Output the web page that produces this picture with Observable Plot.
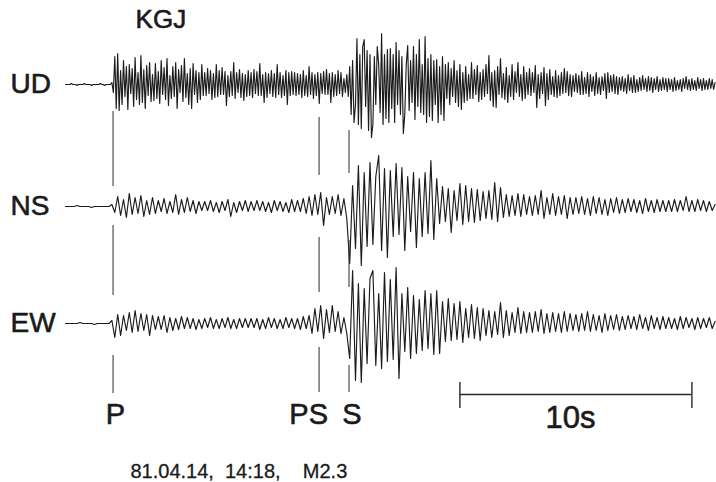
<!DOCTYPE html>
<html>
<head>
<meta charset="utf-8">
<script src="https://cdn.jsdelivr.net/npm/d3@7"></script>
<script src="https://cdn.jsdelivr.net/npm/@observablehq/plot@0.6"></script>
<style>
  html, body { margin: 0; padding: 0; background: #fff; }
  #chart svg { display: block; }
</style>
</head>
<body>
<div id="chart"></div>
<script>
// ---- data ----
const stationName = "KGJ";
const caption = "81.04.14,\u00a0\u00a014:18,\u00a0\u00a0\u00a0\u00a0M2.3";
const channels = ["UD", "NS", "EW"];
const channelOffsets = [0, -122, -239];
const sampleIntervals = [0.0625, 0.125, 0.125]; // seconds between samples per channel
const phaseNames = ["P", "PS", "S"];
const phaseTimes = [2.05, 10.93, 12.22];
const scaleBar = [17, 27];
const scaleLabel = "10s";

const ampUD = [
  0,0,0,0,1,0,0,0,-1,0,0,0,0,1,0,0,0,0,-1,0,0,0,0,0,1,0,0,-1,0,0,0,0,
  2,-8,28,-24,31,-26,14,-20,24,-12,18,-25,20,-9,16,-22,27,-15,12,-20,29,-18,15,-24,19,-11,22,-17,10,-16,21,-14,
  13,-19,24,-10,17,-15,26,-21,9,-14,18,-12,22,-24,15,-8,19,-17,26,-13,11,-20,16,-24,21,-10,14,-18,12,-15,20,-11,
  12,-11,16,-9,14,-15,11,-13,20,-12,14,-10,17,-10,13,-21,9,-12,13,-11,22,-14,12,-8,15,-13,11,-16,10,-12,14,-11,
  12,-13,15,-9,13,-11,21,-11,10,-18,12,-13,11,-9,14,-12,11,-13,20,-10,12,-13,9,-11,14,-20,12,-11,13,-10,12,-11,
  11,-10,10,-13,14,-11,9,-12,18,-10,12,-14,10,-11,12,-19,11,-9,13,-10,15,-10,11,-18,12,-12,10,-11,14,-9,12,-12,
  6,-8,10,-12,18,-30,24,-38,-20,46,-40,30,-44,38,45,-22,34,-46,30,-53,-40,28,-20,38,20,-28,51,-40,30,-34,35,-38,
  36,-24,30,-38,42,-20,34,-30,28,-49,-30,20,39,-26,24,-18,38,-35,30,-22,45,-28,20,-30,48,-38,26,-32,30,-36,24,-20,
  25,-38,18,-30,28,-36,20,-14,22,-20,16,-12,24,-18,14,-22,20,-25,12,-18,18,-16,10,-14,22,-14,15,-10,19,-17,12,-15,
  15,-12,20,-9,29,-16,12,-22,14,-23,18,-10,26,-13,11,-15,17,-18,9,-12,20,-15,13,-8,22,-12,10,-16,18,-14,12,-10,
  16,-11,12,-8,19,-23,10,-14,12,-9,17,-21,11,-15,15,-10,8,-12,14,-13,9,-11,12,-9,16,-8,13,-11,10,-12,9,-7,
  11,-8,9,-10,13,-10,7,-9,12,-12,10,-7,8,-11,12,-9,7,-10,8,-6,11,-14,12,-8,9,-7,10,-9,8,-10,7,-6,
  8,-7,6,-9,10,-6,7,-8,9,-8,5,-7,7,-6,9,-5,6,-7,8,-6,7,-8,6,-5,8,-7,5,-6,7,-5,6,-7,
  6,-5,5,-7,7,-6,4,-5,5,-7,6,-4,8,-5,5,-6,6,-5,4,-6,7,-4,5,-6,6,-5,4,-5,6,-4,5,-5,
  2
];
const ampNS = [
  0,0,0,0,1,0,0,0,0,-1,0,0,0,0,0,0,
  2,-6,10,-9,7,-11,13,-8,9,-7,11,-10,6,-8,9,-7,
  6,-5,8,-7,5,-6,12,-8,7,-6,9,-5,6,-7,5,-4,
  5,-4,6,-5,4,-6,5,-4,7,-10,4,-6,5,-4,6,-5,
  5,-4,6,-4,5,-5,4,-6,6,-4,5,-5,4,-6,7,-5,
  6,-5,8,-7,10,-9,12,-8,14,-19,9,-8,10,-7,12,-9,
  8,-12,-57,21,-42,41,-59,34,-40,44,-38,30,51,-44,38,-51,
  36,-30,43,-28,39,-44,30,-25,34,-41,28,-30,34,-27,46,-33,
  28,-17,20,-15,18,-26,16,-14,23,-18,21,-15,18,-16,17,-14,
  15,-12,16,-13,24,-15,19,-11,12,-10,11,-9,13,-10,12,-8,
  10,-9,11,-8,16,-12,9,-8,13,-9,10,-8,11,-12,9,-8,
  9,-7,10,-8,8,-9,10,-7,9,-8,7,-9,8,-6,9,-7,
  7,-6,8,-5,7,-6,6,-7,8,-5,6,-6,7,-5,6,-5,
  6,-5,7,-5,6,-4,10,-5,6,-5,7,-4,6,-5,5,-4,
  2
];
const ampEW = [
  0,0,0,0,0,1,0,0,0,0,-1,0,0,0,0,0,
  3,-14,9,-12,8,-7,11,-9,13,-8,10,-7,9,-12,8,-6,
  7,-6,8,-9,6,-7,5,-6,7,-5,6,-5,5,-6,4,-5,
  5,-4,6,-5,4,-5,5,-4,6,-5,4,-5,5,-4,5,-4,
  5,-4,5,-6,4,-5,6,-4,5,-5,4,-5,6,-4,5,-5,
  5,-6,7,-5,8,-10,15,-8,18,-15,14,-9,18,-8,12,-10,
  6,-10,-35,53,-57,40,-59,35,-40,45,53,-42,30,-45,51,-38,
  44,-36,56,-55,30,-28,36,-35,28,-30,24,-27,33,-25,30,-31,
  33,-30,22,-18,25,-17,20,-16,22,-19,15,-14,19,-15,16,-17,
  15,-12,13,-14,12,-11,21,-14,13,-12,11,-9,16,-10,12,-9,
  11,-9,12,-8,14,-10,10,-9,11,-8,10,-9,12,-8,10,-7,
  9,-8,10,-7,12,-8,9,-7,8,-9,10,-7,8,-6,9,-7,
  7,-6,8,-5,7,-6,9,-5,6,-7,8,-5,6,-6,7,-5,
  6,-5,5,-6,7,-5,6,-4,5,-6,6,-5,5,-4,6,-5,
  2
];

// ---- build tables ----
const amps = [ampUD, ampNS, ampEW];
const traceRows = [];
channels.forEach((ch, c) => {
  amps[c].forEach((a, i) => {
    traceRows.push({ch, t: i * sampleIntervals[c], v: channelOffsets[c] + a});
  });
});

// phase marker spans (between and below traces), in trace units
const markerSpans = {
  P:  [[-27, -102], [-141, -211], [-271, -309]],
  PS: [[-33, -91],  [-153, -208], [-263, -308]],
  S:  [[-46, -89],  [-156, -203], [-281, -308]]
};
const markerRows = [];
phaseNames.forEach((p, i) => {
  markerSpans[p].forEach(([a, b]) => markerRows.push({t: phaseTimes[i], y1: a, y2: b}));
});
const labelShift = [0.1, -0.45, 0.13];

const font = "'Liberation Sans', Arial, sans-serif";
const ink = "#1a1a1a";
const textStyle = {fill: ink, stroke: ink, strokeWidth: 0.6};

const chart = Plot.plot({
  width: 716,
  height: 482,
  marginLeft: 65,
  marginRight: 0,
  marginTop: 0,
  marginBottom: 0,
  style: {fontFamily: font, background: "#fff", color: ink},
  x: {domain: [0, 651 / 23.2], axis: null},
  y: {domain: [-398, 84], axis: null},
  marks: [
    Plot.line(traceRows, {x: "t", y: "v", z: "ch", stroke: "#1c1c1c", strokeWidth: 1.15}),
    Plot.ruleX(markerRows, {x: "t", y1: "y1", y2: "y2", stroke: "#2a2a2a", strokeWidth: 1}),
    Plot.text(channels, {
      frameAnchor: "left", y: (d, i) => channelOffsets[i], text: d => d,
      textAnchor: "start", lineAnchor: "middle", dx: -55, fontSize: 28, ...textStyle
    }),
    Plot.text([stationName], {
      x: () => 3.02, y: () => 57, text: d => d,
      textAnchor: "start", lineAnchor: "bottom", fontSize: 26, ...textStyle
    }),
    Plot.text(phaseNames, {
      x: (d, i) => phaseTimes[i] + labelShift[i], y: () => -339, text: d => d,
      textAnchor: "middle", lineAnchor: "bottom", fontSize: 29, ...textStyle
    }),
    Plot.ruleY([scaleBar], {x1: d => d[0], x2: d => d[1], y: () => -310, stroke: "#2a2a2a", strokeWidth: 1.4}),
    Plot.ruleX(scaleBar, {x: d => d, y1: () => -298, y2: () => -324, stroke: "#2a2a2a", strokeWidth: 1.4}),
    Plot.text([scaleLabel], {
      x: () => (scaleBar[0] + scaleBar[1]) / 2 - 0.23, y: () => -343, text: d => d,
      textAnchor: "middle", lineAnchor: "bottom", fontSize: 31, ...textStyle
    }),
    Plot.text([caption], {
      x: () => 2.8, y: () => -393, text: d => d,
      textAnchor: "start", lineAnchor: "bottom", fontSize: 20, fill: ink, stroke: ink, strokeWidth: 0.3
    })
  ]
});
document.getElementById("chart").appendChild(chart);
</script>
</body>
</html>
